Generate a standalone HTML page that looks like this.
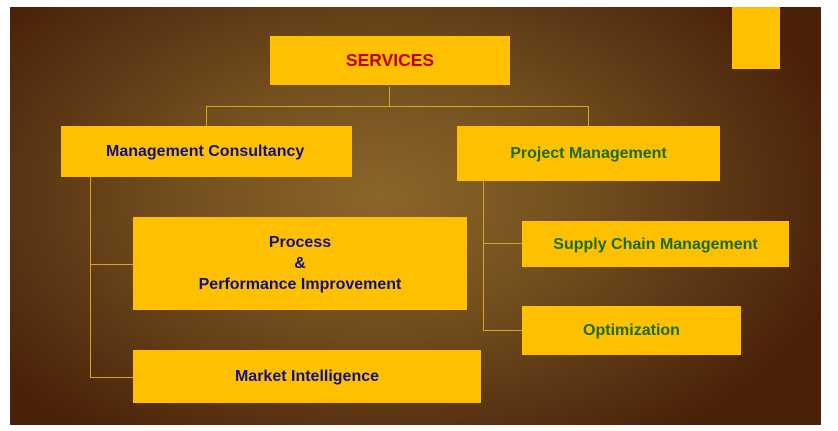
<!DOCTYPE html>
<html><head><style>
body{margin:0;width:838px;height:431px;background:#fff;position:relative;overflow:hidden;font-family:"Liberation Sans",Arial,sans-serif}
#bg{position:absolute;left:10px;top:7px;width:811px;height:418px;background:radial-gradient(ellipse 480px 300px at 370px 190px,#8c6529 0%,#74501f 40%,#5a3413 75%,#4a2008 100%)}
.b{position:absolute;background:#ffc000;display:flex;align-items:center;justify-content:center;text-align:center;font-weight:bold;font-size:16px;line-height:21px}
.l{position:absolute;background:#d9a520}
.blue{color:#10108a}.green{color:#1a6a10}
</style></head><body>
<div id="bg"></div>
<div class="l" style="left:389px;top:87px;width:1px;height:19px"></div>
<div class="l" style="left:206px;top:106px;width:383px;height:1px"></div>
<div class="l" style="left:206px;top:106px;width:1px;height:20px"></div>
<div class="l" style="left:588px;top:106px;width:1px;height:20px"></div>
<div class="l" style="left:90px;top:177px;width:1px;height:200px"></div>
<div class="l" style="left:90px;top:264px;width:43px;height:1px"></div>
<div class="l" style="left:90px;top:377px;width:43px;height:1px"></div>
<div class="l" style="left:483px;top:181px;width:1px;height:149px"></div>
<div class="l" style="left:483px;top:243px;width:39px;height:1px"></div>
<div class="l" style="left:483px;top:330px;width:39px;height:1px"></div>
<div class="b" style="left:270px;top:36px;width:240px;height:49px;color:#c00000;font-size:17.5px">SERVICES</div>
<div class="b" style="left:732px;top:7px;width:48px;height:62px"></div>
<div class="b blue" style="left:61px;top:126px;width:291px;height:51px;justify-content:flex-start;padding-left:45px;box-sizing:border-box">Management Consultancy</div>
<div class="b green" style="left:457px;top:126px;width:263px;height:55px">Project Management</div>
<div class="b blue" style="left:133px;top:217px;width:334px;height:93px">Process<br>&amp;<br>Performance Improvement</div>
<div class="b blue" style="left:133px;top:350px;width:348px;height:53px">Market Intelligence</div>
<div class="b green" style="left:522px;top:221px;width:267px;height:46px">Supply Chain Management</div>
<div class="b green" style="left:522px;top:306px;width:219px;height:49px">Optimization</div>
</body></html>
